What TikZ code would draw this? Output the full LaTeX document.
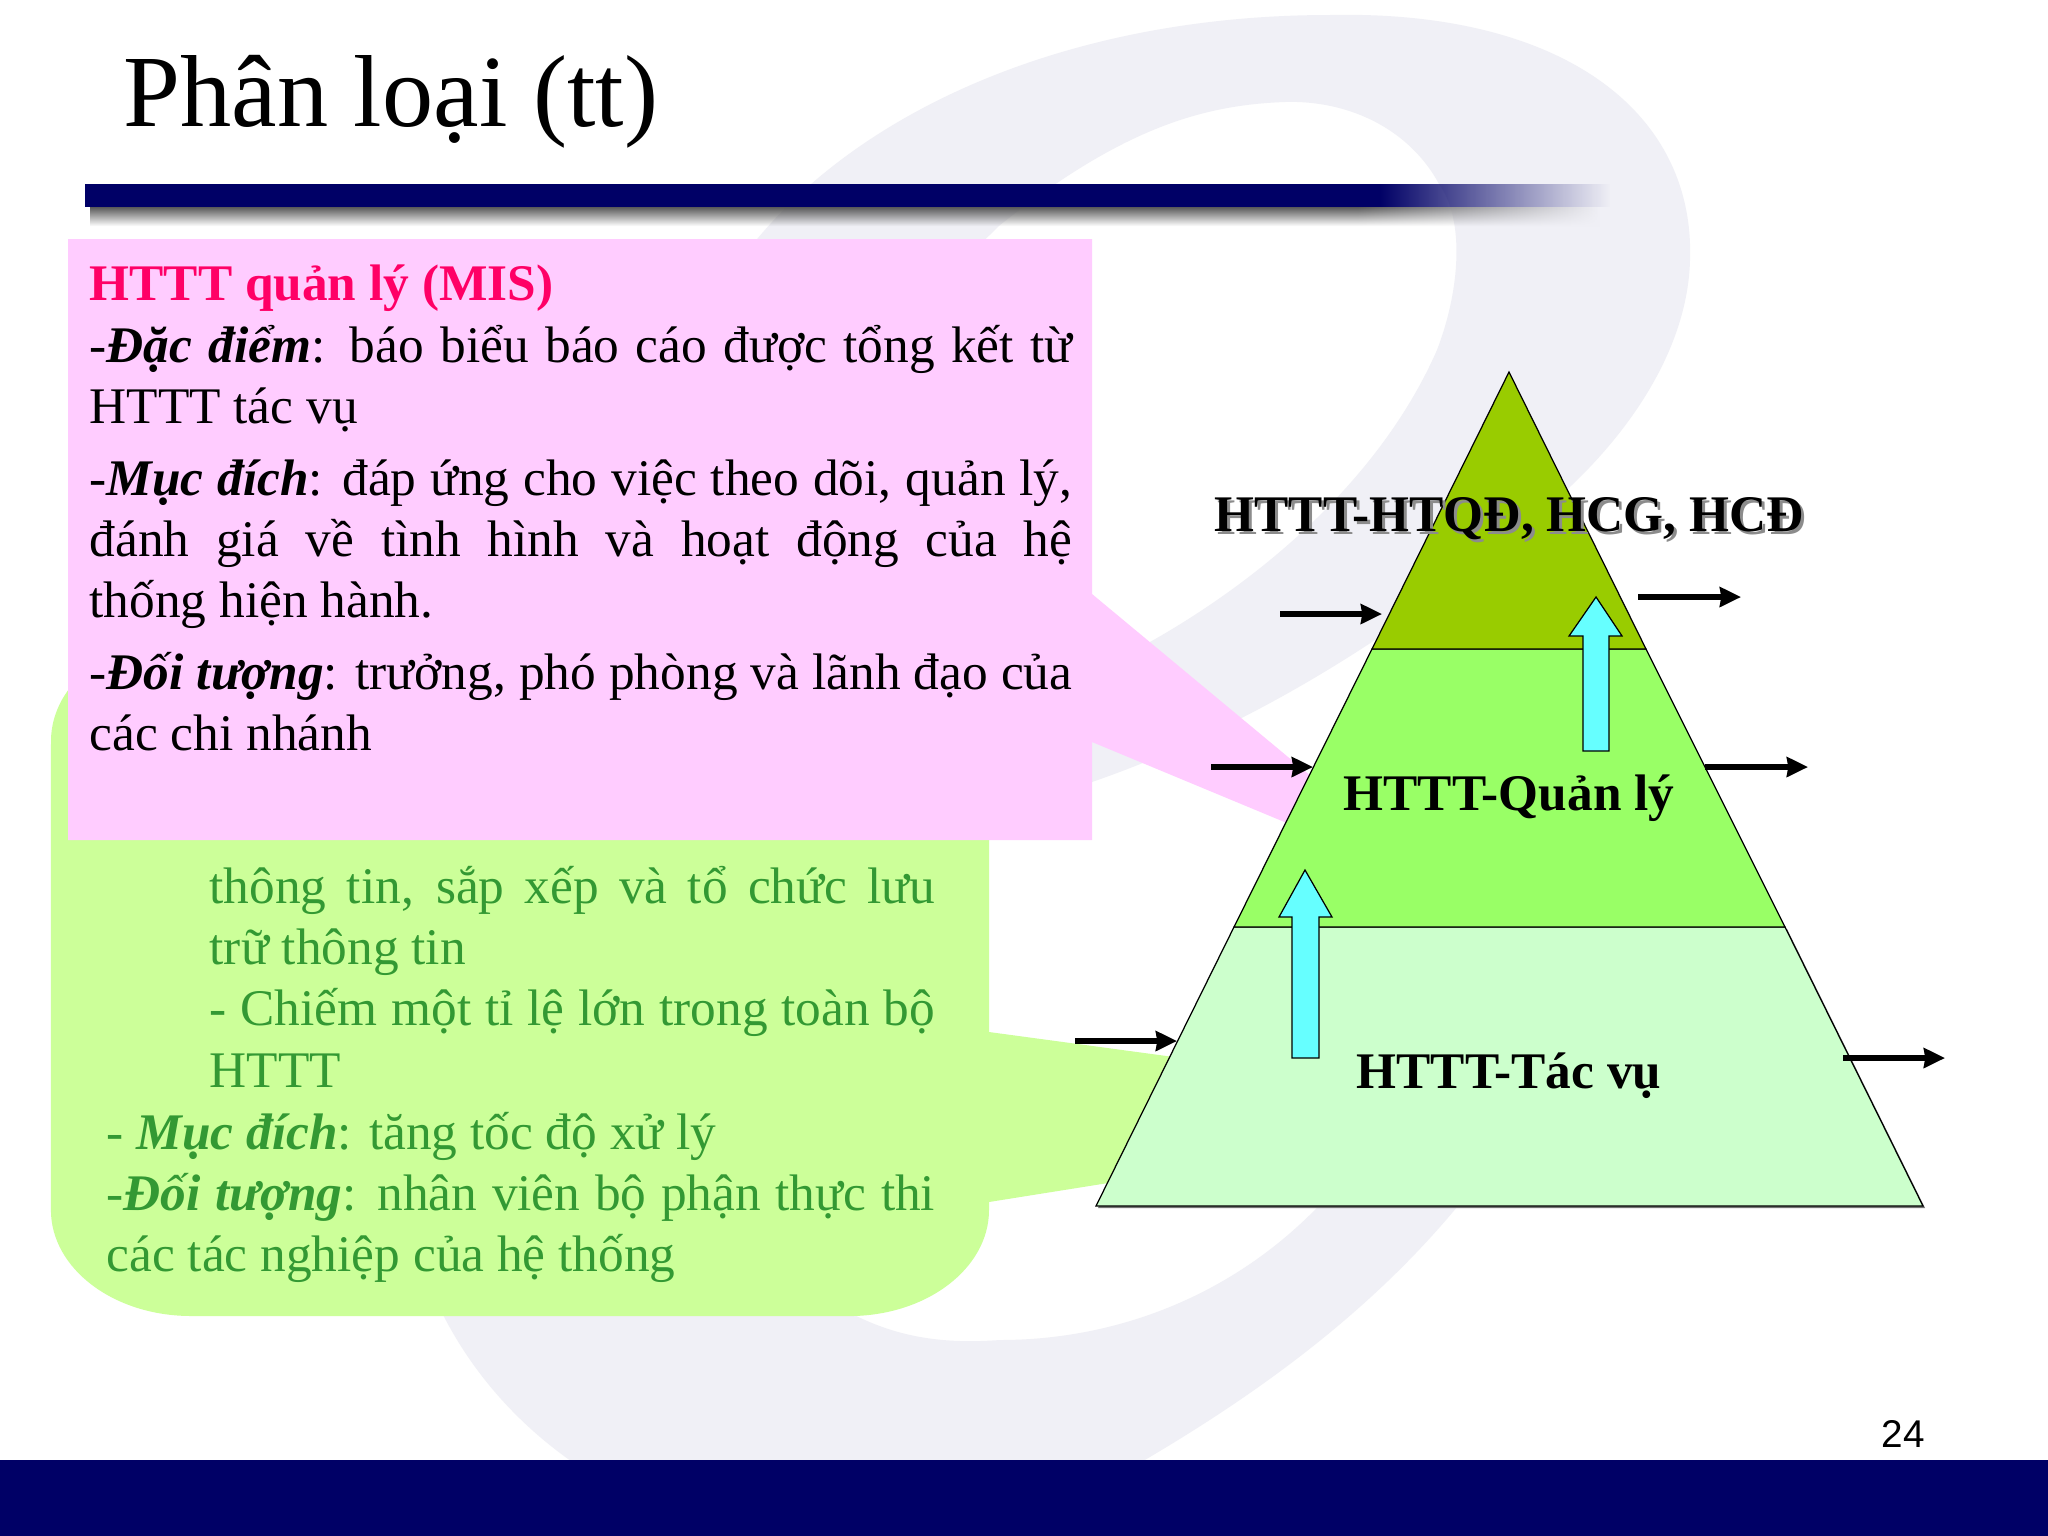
\documentclass[tikz,border=0pt]{standalone}
\usepackage{fontspec}
\setmainfont{Liberation Serif}
\newfontfamily\numfont{Liberation Sans}
\usepackage{xcolor}
\usetikzlibrary{arrows.meta,fadings}
\definecolor{navybar}{HTML}{000066}
\definecolor{swirlgray}{HTML}{F0F0F6}
\definecolor{pinkbox}{HTML}{FFCCFF}
\definecolor{pinkhead}{HTML}{FF0066}
\definecolor{greenbox}{HTML}{CCFF99}
\definecolor{greentext}{HTML}{339933}
\definecolor{levelTop}{HTML}{99CC00}
\definecolor{levelMid}{HTML}{99FF66}
\definecolor{levelLow}{HTML}{CCFFCC}
\definecolor{upcyan}{HTML}{66FFFF}
\pgfdeclarehorizontalshading{barshadow}{100bp}{color(0bp)=(black!65); color(67bp)=(black!65); color(75bp)=(swirlgray); color(100bp)=(swirlgray)}
\tikzset{>={Stealth[length=6pt,width=5.6pt,inset=0.4pt]}}
\tikzset{%
    flow/.style={->,line width=1.5pt},
    level/.style={draw=black,line width=0.35pt},
    uparrow/.style={draw=black,line width=0.35pt,fill=upcyan},
    bodytext/.style={inner sep=0pt,anchor=north west,align=justify,font=\fontsize{14.6}{17.4}\selectfont},
    levellabel/.style={inner sep=0pt,anchor=base,font=\fontsize{14.6}{17}\selectfont\bfseries}
}

\begin{document}
\begin{tikzpicture}[x=0.01cm,y=-0.01cm]
\useasboundingbox (0,0) rectangle (2048,1536);
\fill[white] (0,0) rectangle (2048,1536);

% background swirl
\fill[swirlgray] (700,330) .. controls (780,150) and (1020,15) .. (1330,15)
    .. controls (1560,10) and (1695,110) .. (1690,260)
    .. controls (1688,340) and (1640,420) .. (1572,485)
    .. controls (1470,580) and (1300,710) .. (1092,782)
    -- (950,840) -- (950,740) -- (1150,642)
    .. controls (1260,580) and (1380,480) .. (1437,350)
    .. controls (1460,290) and (1465,220) .. (1439,184)
    .. controls (1410,130) and (1350,100) .. (1285,102)
    .. controls (1200,105) and (1120,130) .. (1000,225)
    -- (800,420) -- cycle;
\fill[swirlgray] (400,1100) .. controls (390,1240) and (450,1390) .. (600,1480) -- (1110,1480) .. controls (1270,1390) and (1420,1280) .. (1520,1120) -- (1350,1170) .. controls (1260,1285) and (1130,1340) .. (1000,1340) .. controls (930,1345) and (870,1335) .. (800,1280) -- cycle;

% title and bars
\node[inner sep=0pt,anchor=base west,font=\fontsize{29.1}{34}\selectfont] (title) at (123,126) {Phân loại (tt)};
\shade[shading=barshadow,path fading=south] (90,207) rectangle (1600,226);
\fill[navybar] (85,184) rectangle (1380,207);
\fill[navybar,path fading=east] (1380,184) rectangle (1610,207);
\fill[navybar] (0,1460) rectangle (2048,1536);
\node[inner sep=0pt,anchor=base west,font=\numfont\fontsize{11}{13}\selectfont] (pagenum) at (1881,1447) {24};

% green callout
\fill[greenbox] (989,1032) -- (1566,1110) -- (989,1202) -- cycle;
\fill[greenbox] (51,741) arc[start angle=180,end angle=90,x radius=1.4cm,y radius=1.06cm] -- (989,635) -- (989,1210) arc[start angle=0,end angle=-90,x radius=1.4cm,y radius=1.06cm] -- (191,1316) arc[start angle=-90,end angle=-180,x radius=1.4cm,y radius=1.06cm] -- cycle;
\node[bodytext,text width=7.25cm,text=greentext] (tpsA) at (209,860) {\strut thông tin, sắp xếp và tổ chức lưu\linebreak trữ thông tin\\- Chiếm một tỉ lệ lớn trong toàn bộ\linebreak HTTT};
\node[bodytext,text width=8.28cm,text=greentext] (tpsB) at (106,1106) {\strut - \textbf{\textit{Mục đích}}: tăng tốc độ xử lý\\-\textbf{\textit{Đối tượng}}: nhân viên bộ phận thực thi\linebreak các tác nghiệp của hệ thống};

% pink callout
\fill[pinkbox] (68,239) -- (1092,239) -- (1092,594) -- (1448,890) -- (1092,742) -- (1092,840) -- (68,840) -- cycle;
\node[bodytext,text width=9.82cm,text=pinkhead,font=\fontsize{14.6}{17.4}\selectfont\bfseries] (misA) at (89,257) {\strut HTTT quản lý (MIS)};
\node[bodytext,text width=9.82cm] (misB) at (89,319) {\strut -\textbf{\textit{Đặc điểm}}: báo biểu báo cáo được tổng kết từ\linebreak HTTT tác vụ};
\node[bodytext,text width=9.82cm] (misC) at (89,452) {\strut -\textbf{\textit{Mục đích}}: đáp ứng cho việc theo dõi, quản lý,\linebreak đánh giá về tình hình và hoạt động của hệ\linebreak thống hiện hành.};
\node[bodytext,text width=9.82cm] (misD) at (89,646) {\strut -\textbf{\textit{Đối tượng}}: trưởng, phó phòng và lãnh đạo của\linebreak các chi nhánh};

% pyramid
\coordinate (apex) at (1509,372);
\coordinate (topL) at (1372,649);
\coordinate (topR) at (1646,649);
\coordinate (midL) at (1234,927);
\coordinate (midR) at (1785,927);
\coordinate (lowL) at (1096,1206);
\coordinate (lowR) at (1923,1206);
\fill[black!55] ([shift={(2,2)}]lowL) -- ([shift={(2,2)}]lowR) -- ([shift={(2,2)}]midR) -- (midL) -- cycle;
\filldraw[level,fill=levelLow] (midL) -- (midR) -- (lowR) -- (lowL) -- cycle;
\filldraw[level,fill=levelMid] (topL) -- (topR) -- (midR) -- (midL) -- cycle;
\filldraw[level,fill=levelTop] (apex) -- (topR) -- (topL) -- cycle;

% up arrows
\filldraw[uparrow] (1596,597) -- (1622,636) -- (1609,636) -- (1609,751) -- (1583,751) -- (1583,636) -- (1569,636) -- cycle;
\filldraw[uparrow] (1305,870) -- (1332,917) -- (1319,917) -- (1319,1058) -- (1292,1058) -- (1292,917) -- (1279,917) -- cycle;

% in and out arrows
\coordinate (inTopS) at (1280,614);
\coordinate (inTopE) at (1382,614);
\coordinate (outTopS) at (1638,597);
\coordinate (outTopE) at (1741,597);
\coordinate (inMidS) at (1211,767);
\coordinate (inMidE) at (1313,767);
\coordinate (outMidS) at (1705,767);
\coordinate (outMidE) at (1808,767);
\coordinate (inLowS) at (1075,1041);
\coordinate (inLowE) at (1177,1041);
\coordinate (outLowS) at (1843,1058);
\coordinate (outLowE) at (1945,1058);
\draw[flow] (inTopS) -- (inTopE);
\draw[flow] (outTopS) -- (outTopE);
\draw[flow] (inMidS) -- (inMidE);
\draw[flow] (outMidS) -- (outMidE);
\draw[flow] (inLowS) -- (inLowE);
\draw[flow] (outLowS) -- (outLowE);

% level labels
\node[levellabel,text=black!45] (labelTopShade) at (1512,534) {HTTT-HTQĐ, HCG, HCĐ};
\node[levellabel] (labelTop) at (1509,531) {HTTT-HTQĐ, HCG, HCĐ};
\node[levellabel] (labelMid) at (1509,810) {HTTT-Quản lý};
\node[levellabel] (labelLow) at (1509,1088) {HTTT-Tác vụ};
\end{tikzpicture}
\end{document}
